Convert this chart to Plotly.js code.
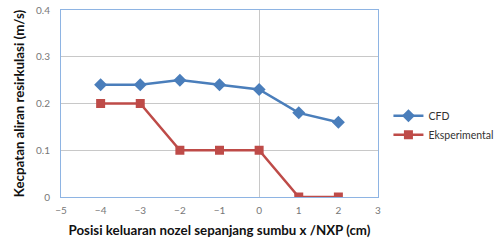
<!DOCTYPE html>
<html><head><meta charset="utf-8">
<script src="https://cdn.plot.ly/plotly-3.0.1.min.js"></script>
<style>html,body{margin:0;padding:0;background:#fff}#c{width:498px;height:243px}</style>
</head><body><div id="c"></div>
<script>
var xPos = [-4, -3, -2, -1, 0, 1, 2];
var cfd = [0.24, 0.24, 0.25, 0.24, 0.23, 0.18, 0.16];
var eksperimental = [0.2, 0.2, 0.1, 0.1, 0.1, 0, 0];
var seriesNames = ['CFD', 'Eksperimental'];
var xTitle = 'Posisi keluaran nozel sepanjang sumbu x /NXP (cm)';
var yTitle = 'Kecpatan aliran resirkulasi (m/s)';

var font = 'Lato, "Open Sans", sans-serif';
var traces = [
  {x: xPos, y: cfd, name: seriesNames[0], type: 'scatter', mode: 'lines+markers',
   line: {color: '#4a7ebb', width: 2.5}, marker: {symbol: 'diamond', size: 10, color: '#4a7ebb'}},
  {x: xPos, y: eksperimental, name: seriesNames[1], type: 'scatter', mode: 'lines+markers',
   line: {color: '#be4b48', width: 2.5}, marker: {symbol: 'square', size: 9, color: '#be4b48'}}
];
var layout = {
  width: 498, height: 243,
  margin: {l: 61, r: 120, t: 10, b: 46},
  paper_bgcolor: '#fff', plot_bgcolor: '#fff',
  font: {family: font, size: 10, color: '#555'},
  xaxis: {range: [-5, 3], dtick: 1, tick0: -5, showgrid: false, zeroline: true,
    zerolinecolor: '#c8c8c8', zerolinewidth: 1,
    showline: true, linecolor: '#8eb4e3', linewidth: 1, mirror: true,
    ticks: '', ticklabelstandoff: 4, tickfont: {size: 10, color: '#777'},
    title: {text: xTitle, font: {size: 13.3, color: '#111', family: font, weight: 'bold'}, standoff: 10}},
  yaxis: {range: [0, 0.4], dtick: 0.1, showgrid: true, gridcolor: '#c8c8c8', zeroline: false,
    showline: true, linecolor: '#8eb4e3', linewidth: 1, mirror: true,
    ticks: '', ticklabelstandoff: 8, tickfont: {size: 10, color: '#777'}, tickformat: '.1~f',
    title: {text: yTitle, font: {size: 13.3, color: '#111', family: font, weight: 'bold'}, standoff: 8}},
  legend: {xref: 'container', yref: 'container', x: 0.78, y: 0.485, yanchor: 'middle', xanchor: 'left',
    font: {size: 10.5, color: '#333'}, bgcolor: 'rgba(0,0,0,0)', itemwidth: 30, tracegroupgap: 2},
  showlegend: true
};
Plotly.newPlot('c', traces, layout, {displayModeBar: false, staticPlot: true});
</script></body></html>
